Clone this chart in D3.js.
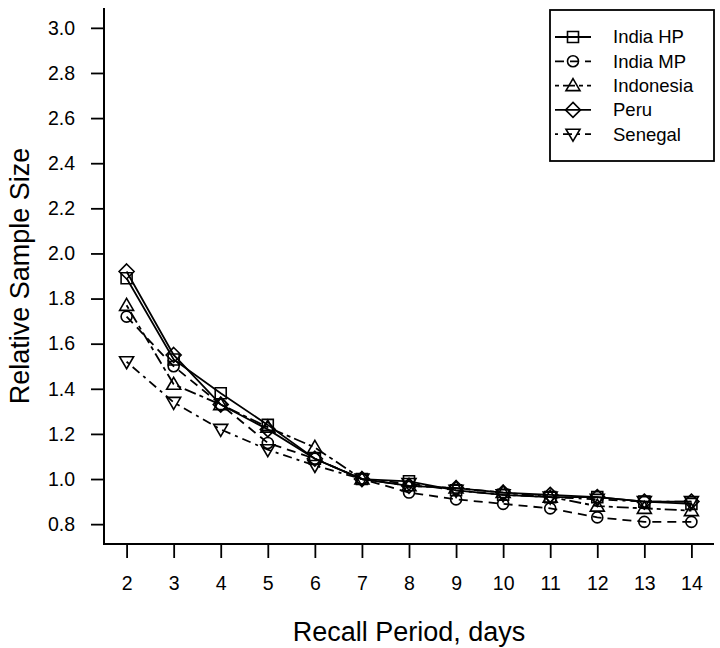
<!DOCTYPE HTML>
<head>
    <script src="https://cdn.jsdelivr.net/npm/d3@7"></script>
</head>

<body style="margin:0">
    <div id="svgDiv">
        <svg width="720" height="648"></svg>
    </div>
</body>

<style>
body { background: white; }
text { font-family: "Liberation Sans", Arial, sans-serif; fill: black; }
</style>

<script>
    // recall period (days)
    var days = [2, 3, 4, 5, 6, 7, 8, 9, 10, 11, 12, 13, 14];
    var yTicks = [0.8, 1.0, 1.2, 1.4, 1.6, 1.8, 2.0, 2.2, 2.4, 2.6, 2.8, 3.0];

    var seriesNames = ["India HP", "India MP", "Indonesia", "Peru", "Senegal"];
    var indiaHP   = [1.89, 1.53, 1.38, 1.24, 1.09, 1.00, 0.99, 0.95, 0.93, 0.92, 0.92, 0.90, 0.89];
    var indiaMP   = [1.72, 1.50, 1.33, 1.16, 1.09, 1.00, 0.94, 0.91, 0.89, 0.87, 0.83, 0.81, 0.81];
    var indonesia = [1.77, 1.42, 1.33, 1.23, 1.14, 1.00, 0.97, 0.96, 0.94, 0.92, 0.88, 0.87, 0.86];
    var peru      = [1.92, 1.55, 1.33, 1.22, 1.09, 1.00, 0.97, 0.96, 0.94, 0.93, 0.92, 0.90, 0.90];
    var senegal   = [1.52, 1.34, 1.22, 1.13, 1.06, 1.00, 0.98, 0.95, 0.93, 0.92, 0.91, 0.90, 0.90];

    var allValues = [indiaHP, indiaMP, indonesia, peru, senegal];
    // solid, dashed, twodash, solid, dotdash
    var dashes  = [null, "9,6", "4,4,12,4", null, "3,5,9,5"];
    var symbols = ["square", "circle", "up", "diamond", "down"];

    var svg = d3.select("svg");

    // plot region like R (4% padding on both axes)
    var pLeft = 104, pRight = 714, pTop = 8, pBottom = 544;

    var x = d3.scaleLinear().domain([2 - 0.48, 14 + 0.48]).range([pLeft, pRight]);
    var y = d3.scaleLinear().domain([0.8 - 0.088, 3.0 + 0.088]).range([pBottom, pTop]);

    // L-shaped box
    svg.append("path")
        .attr("d", "M" + pLeft + "," + pTop + "V" + pBottom + "H" + pRight)
        .attr("fill", "none")
        .attr("stroke", "black")
        .attr("stroke-width", 2);

    var xAxis = svg.append("g")
        .attr("transform", "translate(0," + pBottom + ")")
        .call(d3.axisBottom(x).tickValues(days).tickSize(14).tickPadding(18).tickFormat(d3.format("d")));
    xAxis.select(".domain").remove();
    xAxis.selectAll("line").attr("stroke-width", 1.8);
    xAxis.selectAll("text").style("font-size", "19.5px");

    var yAxis = svg.append("g")
        .attr("transform", "translate(" + pLeft + ",0)")
        .call(d3.axisLeft(y).tickValues(yTicks).tickSize(13).tickPadding(16).tickFormat(d3.format(".1f")));
    yAxis.select(".domain").remove();
    yAxis.selectAll("line").attr("stroke-width", 1.8);
    yAxis.selectAll("text").style("font-size", "19.5px");

    svg.append("text")
        .attr("x", (pLeft + pRight) / 2)
        .attr("y", 641)
        .attr("text-anchor", "middle")
        .style("font-size", "27px")
        .text("Recall Period, days");

    svg.append("text")
        .attr("transform", "translate(20," + ((pTop + pBottom) / 2) + ") rotate(-90)")
        .attr("dy", "0.35em")
        .attr("text-anchor", "middle")
        .style("font-size", "27px")
        .text("Relative Sample Size");

    function symbolPath(type) {
        if (type == "square") return "M-5.5,-5.5H5.5V5.5H-5.5Z";
        if (type == "circle") return "M-5.5,0A5.5,5.5 0 1,0 5.5,0A5.5,5.5 0 1,0 -5.5,0Z";
        if (type == "up") return "M0,-7L7,5H-7Z";
        if (type == "down") return "M0,7L7,-5H-7Z";
        if (type == "diamond") return "M0,-7.5L7.5,0L0,7.5L-7.5,0Z";
    }

    var line = d3.line()
        .x(function(d, i) { return x(days[i]); })
        .y(function(d) { return y(d); });

    allValues.forEach(function(vals, k) {
        svg.append("path")
            .datum(vals)
            .attr("d", line)
            .attr("fill", "none")
            .attr("stroke", "black")
            .attr("stroke-width", 1.8)
            .attr("stroke-dasharray", dashes[k]);

        svg.selectAll(".pt" + k)
            .data(vals)
            .enter().append("path")
            .attr("class", "pt" + k)
            .attr("transform", function(d, i) { return "translate(" + x(days[i]) + "," + y(d) + ")"; })
            .attr("d", symbolPath(symbols[k]))
            .attr("fill", "none")
            .attr("stroke", "black")
            .attr("stroke-width", 1.6);
    });

    // legend
    var leg = svg.append("g");
    leg.append("rect")
        .attr("x", 550).attr("y", 10)
        .attr("width", 164).attr("height", 151)
        .attr("fill", "white")
        .attr("stroke", "black")
        .attr("stroke-width", 1.8);

    seriesNames.forEach(function(name, k) {
        var ly = 37 + k * 24.3;
        leg.append("line")
            .attr("x1", 555).attr("x2", 591)
            .attr("y1", ly).attr("y2", ly)
            .attr("stroke", "black")
            .attr("stroke-width", 1.8)
            .attr("stroke-dasharray", dashes[k]);
        leg.append("path")
            .attr("transform", "translate(573," + ly + ")")
            .attr("d", symbolPath(symbols[k]))
            .attr("fill", "none")
            .attr("stroke", "black")
            .attr("stroke-width", 1.6);
        leg.append("text")
            .attr("x", 613)
            .attr("y", ly)
            .attr("dy", "0.35em")
            .style("font-size", "18.5px")
            .text(name);
    });
</script>
